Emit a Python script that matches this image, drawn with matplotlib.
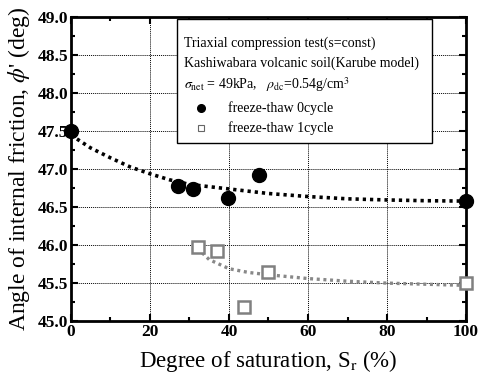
import matplotlib
matplotlib.use("Agg")
import matplotlib.pyplot as plt
from matplotlib.patches import Rectangle

plt.rcParams.update({
    'font.family': ['Liberation Serif', 'DejaVu Serif'],
    'mathtext.fontset': 'stix',
    'xtick.direction': 'in',
    'ytick.direction': 'in',
})

# measured points
sr_0 = [0, 27.2, 31, 39.8, 47.6, 100]
phi_0 = [47.50, 46.78, 46.74, 46.62, 46.92, 46.585]
sr_1 = [32.2, 36.9, 43.9, 50, 100]
phi_1 = [45.98, 45.925, 45.18, 45.64, 45.50]

# fitted curves
fit0_x = [0, 5, 10, 15, 20, 25, 30, 40, 50, 60, 70, 80, 90, 100]
fit0_y = [47.45, 47.28, 47.15, 47.03, 46.94, 46.86, 46.80, 46.74, 46.68, 46.64, 46.61, 46.595, 46.585, 46.58]
fit1_x = [32, 35, 40, 45, 50, 60, 70, 80, 90, 100]
fit1_y = [45.96, 45.81, 45.69, 45.64, 45.61, 45.56, 45.525, 45.50, 45.485, 45.47]

fig = plt.figure(figsize=(4.79, 3.85), dpi=100)
ax = fig.add_axes([0.148, 0.166, 0.825, 0.789])

ax.plot(fit0_x, fit0_y, color='black', lw=2.6, linestyle=(0, (0.9, 1.1)), zorder=3)
ax.plot(fit1_x, fit1_y, color='#888888', lw=2.4, linestyle=(0, (0.9, 1.1)), zorder=3)
ax.plot(sr_0, phi_0, 'o', color='black', ms=10, zorder=4, clip_on=False)
ax.plot(sr_1, phi_1, 's', mfc='white', mec='#808080', mew=1.8, ms=8, zorder=4, clip_on=False)

ax.set_xlim(0, 100)
ax.set_ylim(45.0, 49.0)
ax.set_xticks([0, 20, 40, 60, 80, 100])
ax.set_xticks(range(10, 100, 20), minor=True)
ax.set_yticks([45.0, 45.5, 46.0, 46.5, 47.0, 47.5, 48.0, 48.5, 49.0])
ax.set_yticks([45.25 + 0.5 * i for i in range(8)], minor=True)
ax.set_yticklabels(['%.1f' % v for v in ax.get_yticks()])
ax.grid(True, which='major', color='black', linestyle=(0, (1, 1)), lw=0.7)
ax.tick_params(which='both', top=True, right=True, width=1.5, labelsize=12.5, pad=2)
ax.tick_params(which='major', length=5)
ax.tick_params(which='minor', length=3)
for lab in ax.get_xticklabels() + ax.get_yticklabels():
    lab.set_fontweight('bold')
for s in ax.spines.values():
    s.set_linewidth(2)

ax.set_xlabel(r'Degree of saturation, S$_{\rm r}$ (%)', fontsize=16.5, labelpad=6)
ax.set_ylabel(r"Angle of internal friction, $\phi$' (deg)", fontsize=17, labelpad=4)

# legend box
bx0, by0, bw, bh = 0.268, 0.585, 0.645, 0.41
ax.add_patch(Rectangle((bx0, by0), bw, bh, transform=ax.transAxes,
                       facecolor='white', edgecolor='black', lw=1, zorder=5))
tx = bx0 + 0.018
ax.text(tx, 0.915, 'Triaxial compression test(s=const)', transform=ax.transAxes,
        fontsize=10, va='center', zorder=6)
ax.text(tx, 0.85, 'Kashiwabara volcanic soil(Karube model)', transform=ax.transAxes,
        fontsize=10, va='center', zorder=6)
ax.text(tx, 0.78, r'$\sigma_{\rm net}$ = 49kPa,   $\rho_{\rm dc}$=0.54g/cm$^3$',
        transform=ax.transAxes, fontsize=10, va='center', zorder=6)
ax.plot([bx0 + 0.06], [0.70], 'o', color='black', ms=5.5, transform=ax.transAxes, zorder=6)
ax.plot([bx0 + 0.06], [0.635], 's', mfc='white', mec='#666666', mew=0.8, ms=5,
        transform=ax.transAxes, zorder=6)
ax.text(bx0 + 0.13, 0.70, 'freeze-thaw 0cycle', transform=ax.transAxes,
        fontsize=10, va='center', zorder=6)
ax.text(bx0 + 0.13, 0.635, 'freeze-thaw 1cycle', transform=ax.transAxes,
        fontsize=10, va='center', zorder=6)

fig.savefig('out.png', dpi=100)
